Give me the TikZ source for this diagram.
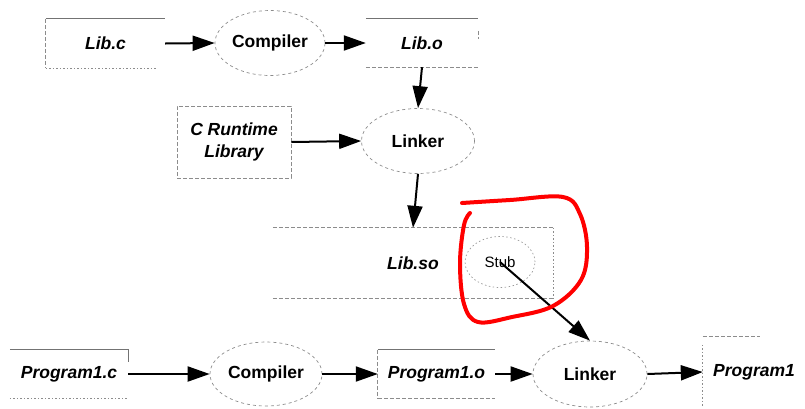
\documentclass[tikz,border=0pt]{standalone}
\usepackage{fontspec}
\setmainfont{Liberation Sans}
\usetikzlibrary{arrows.meta,shapes.geometric,calc}
\begin{document}
\begin{tikzpicture}[x=1pt,y=-1pt,
  filebox/.style={rectangle, inner sep=0pt, align=center,
    font=\fontsize{17.5}{22}\selectfont\bfseries\itshape},
  proc/.style={ellipse, inner sep=0pt, draw=black!45, line width=0.7pt,
    dash pattern=on 3pt off 3pt, font=\fontsize{17.5}{21}\selectfont\bfseries},
  solidedge/.style={draw=black!55, line width=0.9pt},
  dashedge/.style={draw=black!45, line width=0.7pt, dash pattern=on 4pt off 2pt},
  dotedge/.style={draw=black!45, line width=0.7pt, dash pattern=on 1.5pt off 2pt},
  arr/.style={draw=black, line width=2pt, -{Triangle[length=22pt,width=15pt]}},
  redmark/.style={draw=red, line width=4pt, line cap=round, line join=round}
]
\useasboundingbox (0,0) rectangle (805,408);

% ---- top row
\node[filebox, minimum width=119pt, minimum height=49pt] (libc) at (105.5,43.5) {Lib.c};
\node[proc, minimum width=110pt, minimum height=65pt] (comp1) at (270,43) {Compiler};
\node[filebox, minimum width=112pt, minimum height=48pt] (libo) at (422,43) {Lib.o};

% ---- second row
\node[filebox, minimum width=114pt, minimum height=72pt, draw=black!45, line width=0.7pt,
  dash pattern=on 4pt off 2pt] (crt) at (234,142) {C Runtime\\Library};
\node[proc, minimum width=113pt, minimum height=65pt] (link1) at (418,141) {Linker};

% ---- shared library
\node[filebox, minimum width=280pt, minimum height=70pt] (libso) at (413,263) {Lib.so};
\node[ellipse, inner sep=0pt, draw=black!40, line width=0.7pt, dash pattern=on 1.5pt off 2.5pt,
  minimum width=70pt, minimum height=51pt, font=\fontsize{15}{17}\selectfont] (stub) at (500,262) {Stub};

% ---- bottom row
\node[filebox, minimum width=118pt, minimum height=48pt] (p1c) at (69,374) {Program1.c};
\node[proc, minimum width=112pt, minimum height=64pt] (comp2) at (266,374) {Compiler};
\node[filebox, minimum width=117pt, minimum height=48pt] (p1o) at (436.5,374) {Program1.o};
\node[proc, minimum width=114pt, minimum height=66pt] (link2) at (590,374) {Linker};
\node[filebox, minimum width=102pt, minimum height=70pt] (prog) at (754,372) {Program1};

% ---- partial box edges
\draw[solidedge] (libc.north west) -- (libc.north east);
\draw[dashedge] (libc.north west) -- (libc.south west);
\draw[dotedge] (libc.south west) -- ($(libc.south east)+(-8,0)$);

\draw[solidedge] (libo.north west) -- (libo.north east);
\draw[dashedge] (libo.south west) -- (libo.south east);
\draw[dashedge] ($(libo.north east)+(0,12)$) -- ($(libo.north east)+(0,20)$);

\draw[dashedge] (libso.north west) -- (libso.north east);
\draw[dashedge] (libso.south west) -- (libso.south east);
\draw[dotedge] (libso.north east) -- (libso.south east);

\draw[solidedge] (p1c.north west) -- (p1c.north east) -- ($(p1c.north east)+(0,12)$);
\draw[dotedge] (p1c.south west) -- (p1c.south east);

\draw[solidedge] (p1o.north west) -- (p1o.north east);
\draw[dashedge] (p1o.north west) -- (p1o.south west);
\draw[dashedge] (p1o.south west) -- (p1o.south east);

\draw[dashedge] ($(prog.north west)+(0,0)$) -- ($(prog.north west)+(57,0)$);
\draw[dotedge] ($(prog.north west)+(0,8)$) -- (prog.south west);

% ---- connectors
\draw[arr] (libc.east) -- (comp1.west);
\draw[arr] (comp1.east) -- (libo.west);
\draw[arr] (libo.south) -- (link1.north);
\draw[arr] (crt.east) -- (link1.west);
\draw[arr] (link1.south) -- (libso.north);
\draw[arr] (stub.center) -- (link2.north);
\draw[arr] (p1c.east) -- (comp2.west);
\draw[arr] (comp2.east) -- (p1o.west);
\draw[arr] (p1o.east) -- (link2.west);
\draw[arr] (link2.east) -- (prog.west);

% ---- red hand-drawn mark
\draw[redmark] plot[smooth, tension=0.6] coordinates {
  (462,203) (510,200) (563,197) (580,214) (587,247) (581,280) (553,306)
  (512,317) (478,322) (464,304) (460,263) (464,225) (470,213)};
\end{tikzpicture}
\end{document}
